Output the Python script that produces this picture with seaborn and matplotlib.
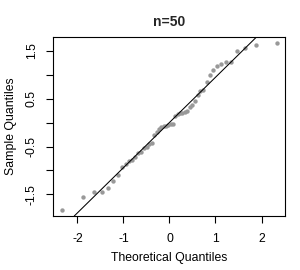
import numpy as np
import pandas as pd
import matplotlib
matplotlib.use("Agg")
import matplotlib.pyplot as plt
import seaborn as sns

# Theoretical normal quantiles for n=50 (ppoints)
theoretical = [-2.326, -1.881, -1.645, -1.476, -1.341, -1.227, -1.126, -1.036, -0.954, -0.878,
               -0.806, -0.739, -0.674, -0.613, -0.553, -0.496, -0.440, -0.385, -0.332, -0.279,
               -0.228, -0.176, -0.126, -0.075, -0.025, 0.025, 0.075, 0.126, 0.176, 0.228,
               0.279, 0.332, 0.385, 0.440, 0.496, 0.553, 0.613, 0.674, 0.739, 0.806,
               0.878, 0.954, 1.036, 1.126, 1.227, 1.341, 1.476, 1.645, 1.881, 2.326]
# Sorted sample values
sample = [-1.82, -1.55, -1.45, -1.45, -1.37, -1.21, -1.09, -0.92, -0.87, -0.80,
          -0.78, -0.71, -0.64, -0.62, -0.54, -0.50, -0.45, -0.42, -0.27, -0.20,
          -0.14, -0.09, -0.08, -0.07, -0.06, -0.04, -0.02, 0.14, 0.17, 0.19,
          0.20, 0.22, 0.24, 0.33, 0.37, 0.45, 0.57, 0.66, 0.67, 0.85,
          0.99, 1.10, 1.18, 1.22, 1.26, 1.27, 1.50, 1.56, 1.62, 1.65]
title = "n=50"
xlabel = "Theoretical Quantiles"
ylabel = "Sample Quantiles"
xticks = [-2, -1, 0, 1, 2]
yticks = [-1.5, -1.0, -0.5, 0.0, 0.5, 1.0, 1.5]
yticklabels = ["-1.5", "", "-0.5", "", "0.5", "", "1.5"]

sns.set_style("white")
plt.rcParams['font.family'] = ['Liberation Sans', 'DejaVu Sans']

df = pd.DataFrame({"x": theoretical, "y": sample})

fig = plt.figure(figsize=(3.0, 2.7), dpi=100)
ax = fig.add_axes([53/300, 1 - 216/270, (285 - 53)/300, (216 - 37)/270])

sns.scatterplot(data=df, x="x", y="y", ax=ax, color="#999999", s=10, linewidth=0, zorder=3)

# qqline through the quartiles
sq = np.quantile(sample, [0.25, 0.75])
tq = np.array([-0.6745, 0.6745])
slope = (sq[1] - sq[0]) / (tq[1] - tq[0])
intercept = sq[0] - slope * tq[0]
ax.axline((0, intercept), slope=slope, color="black", linewidth=0.75, zorder=4)

ax.set_xlim(-2.53, 2.51)
ax.set_ylim(-1.95, 1.785)
ax.set_xticks(xticks)
ax.set_xticklabels([str(t) for t in xticks])
ax.set_yticks(yticks)
ax.set_yticklabels(yticklabels, rotation=90, va="center")

for sp in ax.spines.values():
    sp.set_visible(True)
    sp.set_color("black")
    sp.set_linewidth(0.8)

ax.tick_params(axis="both", direction="out", length=5, width=0.8, color="black",
               labelsize=8.8, labelcolor="black", left=True, bottom=True)
ax.tick_params(axis="x", pad=7.5)
ax.tick_params(axis="y", pad=6)

ax.set_xlabel(xlabel, fontsize=8.8, labelpad=5, color="black")
ax.set_ylabel(ylabel, fontsize=8.8, labelpad=6, color="black")
ax.set_title(title, fontsize=10, fontweight="bold", pad=8)

fig.savefig("out.png", dpi=100)
